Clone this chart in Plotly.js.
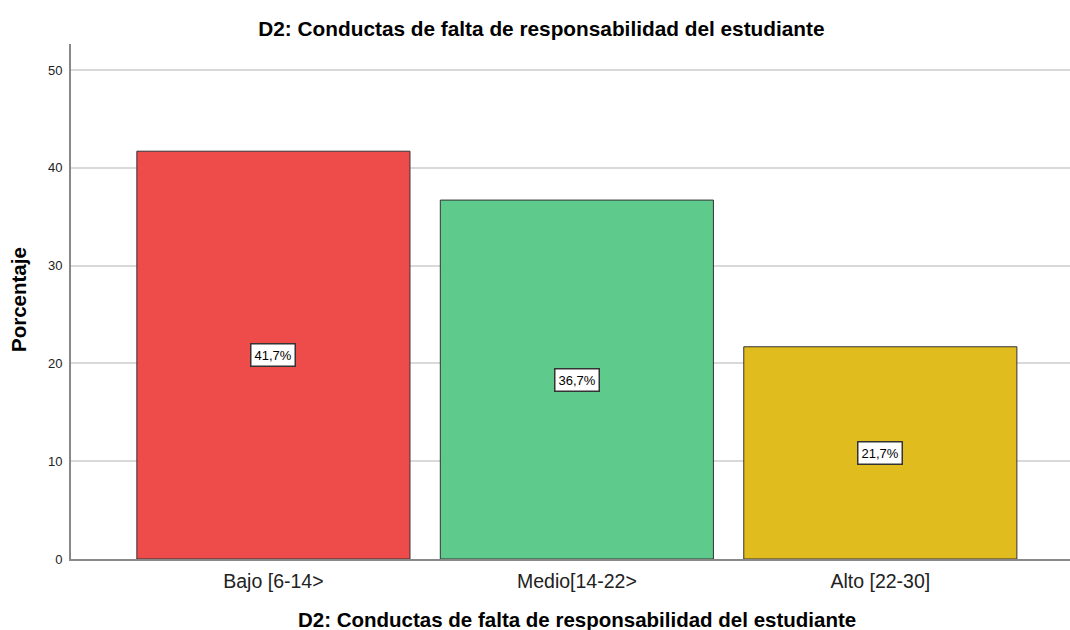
<!DOCTYPE html>
<html><head><meta charset="utf-8">
<script src="https://cdn.plot.ly/plotly-3.0.1.min.js"></script>
<style>body{margin:0}#c{width:1070px;height:630px}</style>
</head><body><div id="c"></div>
<script>
const categories = ["Bajo [6-14>", "Medio[14-22>", "Alto [22-30]"];
const values = [41.7, 36.7, 21.7];
const labels = ["41,7%", "36,7%", "21,7%"];
const colors = ["#EE4B4B", "#5ECA8B", "#E1BC1E"];
const titleText = "D2: Conductas de falta de responsabilidad del estudiante";
const yTitle = "Porcentaje";

const trace = {
  type: "bar", x: categories, y: values,
  marker: {color: colors, line: {color: "#333333", width: 1}},
  hoverinfo: "none"
};
const annotations = categories.map((c, i) => ({
  x: c, y: values[i] / 2, xref: "x", yref: "y", text: labels[i], showarrow: false,
  font: {family: "Arial", size: 13, color: "#000"},
  bgcolor: "#ffffff", bordercolor: "#333333", borderwidth: 1.5, borderpad: 3
}));
annotations.push({
  xref: "paper", yref: "paper", x: 0.507, y: -0.1184, xanchor: "center", yanchor: "middle",
  text: "<b>" + titleText + "</b>", showarrow: false,
  font: {family: "Arial", size: 20.5, color: "#000"}
});
annotations.push({
  xref: "paper", yref: "paper", x: -0.052, y: 0.503, xanchor: "center", yanchor: "middle",
  text: "<b>" + yTitle + "</b>", showarrow: false, textangle: -90,
  font: {family: "Arial", size: 20.5, color: "#000"}
});
const layout = {
  width: 1070, height: 630,
  margin: {l: 71, r: 0, t: 44, b: 71},
  paper_bgcolor: "#fff", plot_bgcolor: "#fff",
  bargap: 0.1, showlegend: false,
  title: {text: "<b>" + titleText + "</b>", x: 0.506, xanchor: "center", xref: "container", y: 0.954, yanchor: "middle",
          font: {family: "Arial", size: 20.8, color: "#000"}},
  xaxis: {range: [-0.667, 2.625], showline: true, linecolor: "#888", linewidth: 2,
          ticks: "", showgrid: false, tickfont: {family: "Arial", size: 19.5, color: "#222"},
          ticklabelstandoff: 4},
  yaxis: {range: [0, 52.66], tickvals: [0, 10, 20, 30, 40, 50], showline: true, linecolor: "#888", linewidth: 2,
          ticks: "", showgrid: true, gridcolor: "#d9d9d9", gridwidth: 2, zeroline: false,
          tickfont: {family: "Arial", size: 13, color: "#222"}, ticklabelstandoff: 4},
  annotations: annotations
};
Plotly.newPlot("c", [trace], layout, {displayModeBar: false, staticPlot: true});
</script></body></html>
